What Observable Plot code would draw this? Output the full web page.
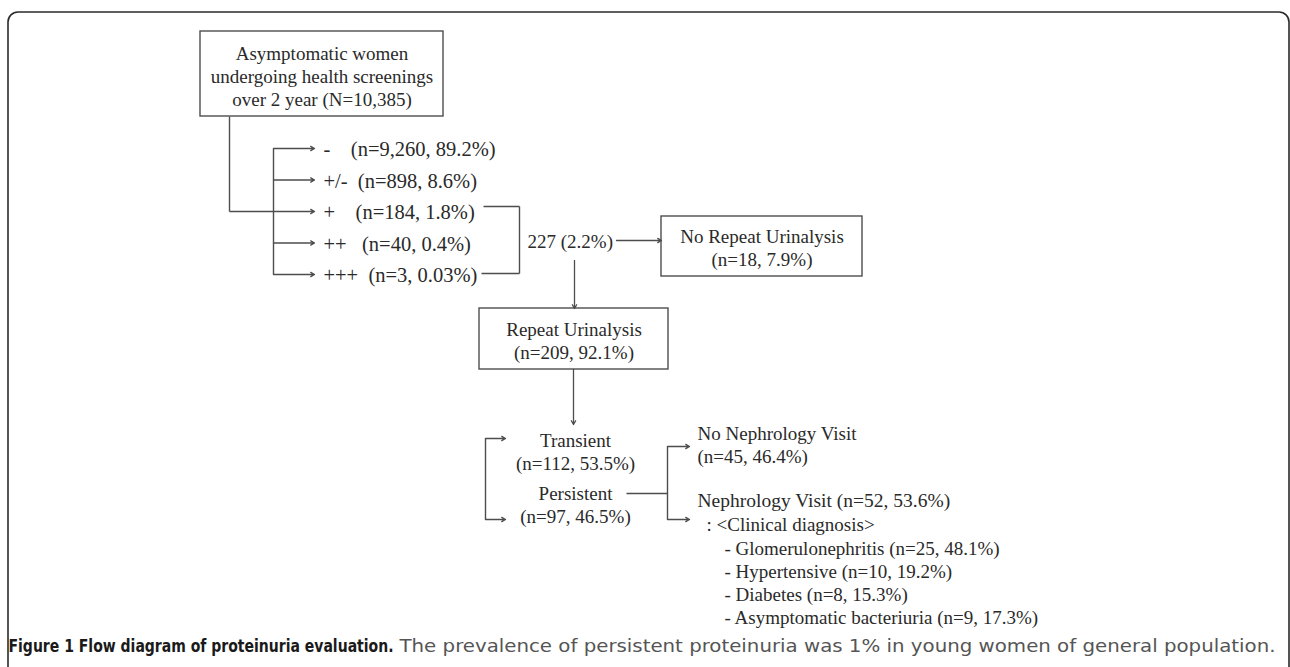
<!DOCTYPE html>
<html>
<head>
<meta charset="utf-8">
<script src="https://cdn.jsdelivr.net/npm/d3@7"></script>
<script src="https://cdn.jsdelivr.net/npm/@observablehq/plot@0.6"></script>
<style>
  html, body { margin: 0; padding: 0; background: #fff; }
  #chart svg { display: block; overflow: hidden; }
</style>
</head>
<body>
<div id="chart"></div>
<script>
// ---------------- DATA ----------------
const screenedTotal = 10385;
const screeningYears = 2;
const dipstickGrades = ["-", "+/-", "+", "++", "+++"];
const dipstickCounts = [9260, 898, 184, 40, 3];
const dipstickPercents = ["89.2%", "8.6%", "1.8%", "0.4%", "0.03%"];
const positiveTotal = 227;
const positivePercent = "2.2%";
const followUpLabels = ["No Repeat Urinalysis", "Repeat Urinalysis"];
const followUpCounts = [18, 209];
const followUpPercents = ["7.9%", "92.1%"];
const repeatResultLabels = ["Transient", "Persistent"];
const repeatResultCounts = [112, 97];
const repeatResultPercents = ["53.5%", "46.5%"];
const nephrologyLabels = ["No Nephrology Visit", "Nephrology Visit"];
const nephrologyCounts = [45, 52];
const nephrologyPercents = ["46.4%", "53.6%"];
const diagnosisLabels = ["Glomerulonephritis", "Hypertensive", "Diabetes", "Asymptomatic bacteriuria"];
const diagnosisCounts = [25, 10, 8, 9];
const diagnosisPercents = ["48.1%", "19.2%", "15.3%", "17.3%"];
const captionTitle = "Figure 1 Flow diagram of proteinuria evaluation.";
const captionText = "The prevalence of persistent proteinuria was 1% in young women of general population.";

// ---------------- LAYOUT (diagram geometry) ----------------
const W = 1290, H = 667;
const fmt = d3.format(",");
const nText = (n, p) => `(n=${fmt(n)}, ${p})`;
const nb = k => "\u00a0".repeat(k);
const gradeGap = [4, 2, 4, 3, 2];

const rowY0 = 148, rowStep = 31.5;
const rowY = dipstickGrades.map((_, i) => rowY0 + i * rowStep);

const boxes = [
  {x1: 200, x2: 443, y1: 31, y2: 116},   // screened
  {x1: 661, x2: 862, y1: 216, y2: 276},  // no repeat
  {x1: 479, x2: 668, y1: 308, y2: 369}   // repeat
];

const segments = [
  {x1: 229, y1: 116, x2: 229, y2: rowY[2]},
  {x1: 229, y1: rowY[2], x2: 273, y2: rowY[2]},
  {x1: 273, y1: rowY[0], x2: 273, y2: rowY[4]},
  {x1: 483, y1: 206, x2: 519, y2: 206},
  {x1: 519, y1: 206, x2: 519, y2: 273},
  {x1: 481, y1: 273, x2: 519, y2: 273},
  {x1: 485, y1: 438, x2: 485, y2: 519},
  {x1: 626, y1: 493, x2: 667, y2: 493},
  {x1: 667, y1: 446, x2: 667, y2: 519}
];

const arrows = [
  ...rowY.map(y => ({x1: 273, y1: y, x2: 314, y2: y})),
  {x1: 616, y1: 240, x2: 661, y2: 240},
  {x1: 574, y1: 260, x2: 574, y2: 308},
  {x1: 573, y1: 369, x2: 573, y2: 424},
  {x1: 485, y1: 438, x2: 505, y2: 438},
  {x1: 485, y1: 519, x2: 505, y2: 519},
  {x1: 667, y1: 446, x2: 689, y2: 446},
  {x1: 667, y1: 519, x2: 689, y2: 519}
];

const centered = [
  {x: 321.5, y: 75, text: `Asymptomatic women\nundergoing health screenings\nover ${screeningYears} year (N=${fmt(screenedTotal)})`},
  {x: 761.5, y: 247, text: followUpLabels[0] + "\n" + nText(followUpCounts[0], followUpPercents[0])},
  {x: 573.5, y: 340, text: followUpLabels[1] + "\n" + nText(followUpCounts[1], followUpPercents[1])},
  {x: 575, y: 451, text: repeatResultLabels[0] + "\n" + nText(repeatResultCounts[0], repeatResultPercents[0])},
  {x: 575, y: 504, text: repeatResultLabels[1] + "\n" + nText(repeatResultCounts[1], repeatResultPercents[1])}
];

const gradeRows = dipstickGrades.map((g, i) => ({x: 323, y: rowY[i] + 1,
  text: g + nb(gradeGap[i]) + nText(dipstickCounts[i], dipstickPercents[i])}));

const visitLine = [{x: 697, y: 500, text: nephrologyLabels[1] + " " + nText(nephrologyCounts[1], nephrologyPercents[1])}];

const leftAligned = [];
leftAligned.push({x: 527, y: 240, text: `${positiveTotal} (${positivePercent})`});
leftAligned.push({x: 697, y: 444, text: nephrologyLabels[0] + "\n" + nText(nephrologyCounts[0], nephrologyPercents[0])});
leftAligned.push({x: 706, y: 523, text: ": <Clinical diagnosis>"});
diagnosisLabels.forEach((d, i) => leftAligned.push({x: 724, y: 547 + i * 23.2,
  text: `- ${d} (n=${diagnosisCounts[i]}, ${diagnosisPercents[i]})`}));

const serif = "'Liberation Serif', 'Times New Roman', Times, serif";
const capFont = "'Liberation Sans Narrow', 'DejaVu Sans Condensed', 'Open Sans', sans-serif";
const ink = "#2a2a2a", lineInk = "#4d4d4d";

const chart = Plot.plot({
  width: W, height: H, margin: 0,
  x: {domain: [0, W], range: [0, W], axis: null},
  y: {domain: [0, H], range: [0, H], axis: null},
  style: {background: "#fff", overflow: "hidden"},
  marks: [
    Plot.rect([{x1: 8, x2: 1289, y1: 12, y2: H + 40}], {x1: "x1", x2: "x2", y1: "y1", y2: "y2",
      rx: 10, fill: "none", stroke: "#2b2b2b", strokeWidth: 1.6, clip: true}),
    Plot.rect(boxes, {x1: "x1", x2: "x2", y1: "y1", y2: "y2", fill: "#fff", stroke: lineInk, strokeWidth: 1.4}),
    Plot.link(segments, {x1: "x1", y1: "y1", x2: "x2", y2: "y2", stroke: lineInk, strokeWidth: 1.4}),
    Plot.arrow(arrows, {x1: "x1", y1: "y1", x2: "x2", y2: "y2", stroke: lineInk, strokeWidth: 1.3,
      headLength: 5, headAngle: 60}),
    Plot.text(centered, {x: "x", y: "y", text: "text", textAnchor: "middle", fontFamily: serif,
      fontSize: 19, lineHeight: 1.2, fill: ink}),
    Plot.text(leftAligned, {x: "x", y: "y", text: "text", textAnchor: "start", fontFamily: serif,
      fontSize: 19, lineHeight: 1.2, fill: ink}),
    Plot.text(visitLine, {x: "x", y: "y", text: "text", textAnchor: "start", fontFamily: serif,
      fontSize: 19.5, fill: ink}),
    Plot.text(gradeRows, {x: "x", y: "y", text: "text", textAnchor: "start", fontFamily: serif,
      fontSize: 20.5, fill: ink}),
    Plot.text([captionTitle], {x: () => 8, y: () => 646, text: d => d, textAnchor: "start",
      fontFamily: capFont, fontSize: 17, fontWeight: "bold", fill: "#1a1a1a"}),
    Plot.text([captionText], {x: () => 399, y: () => 646, text: d => d, textAnchor: "start",
      fontFamily: capFont, fontSize: 17, fill: "#555"})
  ]
});
document.getElementById("chart").appendChild(chart);

// fit caption widths to the reference layout
const fit = (content, len) => {
  for (const t of chart.querySelectorAll("text")) {
    if (t.textContent === content) {
      t.setAttribute("textLength", len);
      t.setAttribute("lengthAdjust", "spacingAndGlyphs");
    }
  }
};
fit(captionTitle, 385);
fit(captionText, 876);
</script>
</body>
</html>
